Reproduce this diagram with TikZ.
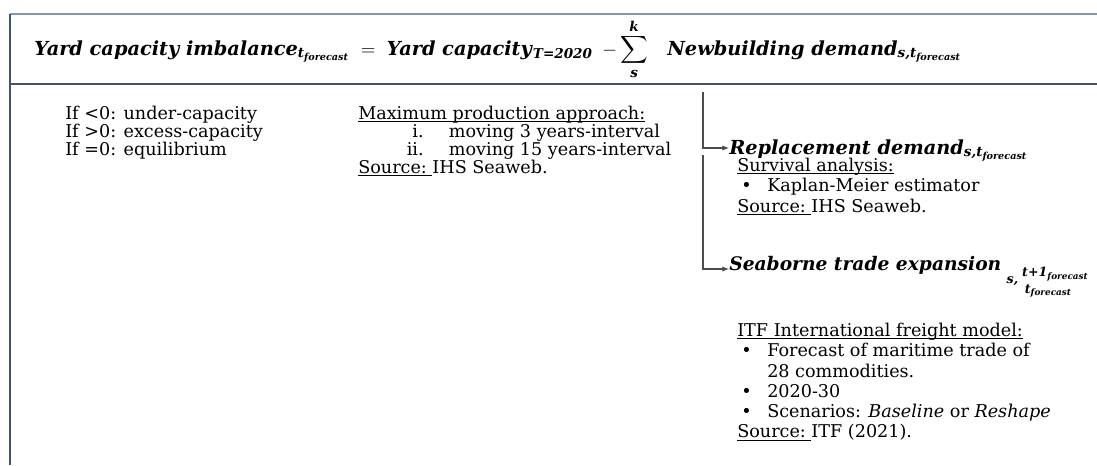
\documentclass[tikz,border=0pt]{standalone}
\usepackage{amsmath}
\usepackage{fontspec}
\setmainfont{DejaVu Serif}
\usetikzlibrary{positioning,arrows.meta,calc}

\definecolor{rulelight}{HTML}{8497B0}
\definecolor{ruledark}{HTML}{44546A}

\newsavebox{\ulbox}
\newcommand{\bi}[1]{\textbf{\textit{#1}}}
\newcommand{\ul}[1]{\sbox{\ulbox}{#1}\rlap{\rule[-1.8pt]{\wd\ulbox}{0.6pt}}\usebox{\ulbox}}
\newcommand{\sub}[1]{\text{\bi{#1}}}
\newcommand{\bul}{\hspace{3pt}\makebox[19.5pt][l]{\textbullet}}

\tikzset{
  rule/.style={ruledark, line width=1.2pt},
  body/.style={inner sep=0pt, anchor=north west, align=left,
    font=\fontsize{13.2}{13.5}\selectfont},
  bodyloose/.style={body, font=\fontsize{13.2}{15.2}\selectfont},
  head/.style={inner sep=0pt, anchor=base west, font=\fontsize{14.5}{16}\selectfont},
  link/.style={black!70, line width=0.8pt, -{Latex[length=5pt,width=4pt]}},
}

\begin{document}
\begin{tikzpicture}[x=0.75pt, y=-0.75pt]
	\useasboundingbox (0,0) rectangle (1097,465);

	% frame
	\draw[rulelight, line width=1.2pt] (10,14) -- (1097,14);
	\draw[rule] (10,14) -- (10,465);
	\draw[rule] (10,84) -- (1097,84);

	% balance equation
	\node[head, anchor=base] (eqn) at (498,55) {%
		\bi{Yard capacity imbalance}$_{\sub{t}_{\sub{forecast}}}$ ${}={}$
		\bi{Yard capacity}$_{\sub{T=2020}}$\,
		$-\displaystyle\sum_{\sub{s}}^{\sub{k}}$\quad
		\bi{Newbuilding demand}$_{\sub{s,t}_{\sub{forecast}}}$};

	% reading of the sign
	\node[body] (cases) at (65,106) {If <0: under-capacity\\If >0: excess-capacity\\If =0: equilibrium};

	% yard capacity source
	\node[body] (maxprod) at (358,106) {\ul{Maximum production approach:}\\
		\makebox[49pt][r]{i.}\hspace{19pt}moving 3 years-interval\\
		\makebox[49pt][r]{ii.}\hspace{19pt}moving 15 years-interval\\
		\ul{Source:\ }IHS Seaweb.};

	% demand components
	\node[head] (repl) at (729,154) {%
		\bi{Replacement demand}$_{\sub{s,t}_{\sub{forecast}}}$};
	\node[bodyloose] (surv) at (737,158) {\ul{Survival analysis:}\\
		\bul Kaplan-Meier estimator\\
		\ul{Source:\ }IHS Seaweb.};

	\node[head, font=\fontsize{14}{16}\selectfont] (trade) at (729,270) {%
		\bi{Seaborne trade expansion}\hspace{4pt}%
		\raisebox{-10pt}{\fontsize{9.5}{9.5}\selectfont\bi{s,}}\hspace{3pt}%
		\raisebox{-5pt}{\fontsize{9.5}{12.5}\selectfont
			\begin{tabular}[t]{@{}l@{}}\bi{t+1}$_{\sub{forecast}}$\\\hspace{2pt}\bi{t}$_{\sub{forecast}}$\end{tabular}}};
	\node[bodyloose] (itf) at (737,323) {\ul{ITF International freight model:}\\
		\bul Forecast of maritime trade of\\
		\hspace{22.5pt}28 commodities.\\
		\bul 2020-30\\
		\bul Scenarios: \textit{Baseline} or \textit{Reshape}\\
		\ul{Source:\ }ITF (2021).};

	% connectors
	\coordinate (trunkA) at (703,92);
	\coordinate (trunkB) at (703,155);
	\draw[link] (trunkA) |- ($(repl.base west)+(0,-6)$);
	\draw[link] (trunkB) |- ($(trade.base west)+(0,-1)$);
\end{tikzpicture}
\end{document}
